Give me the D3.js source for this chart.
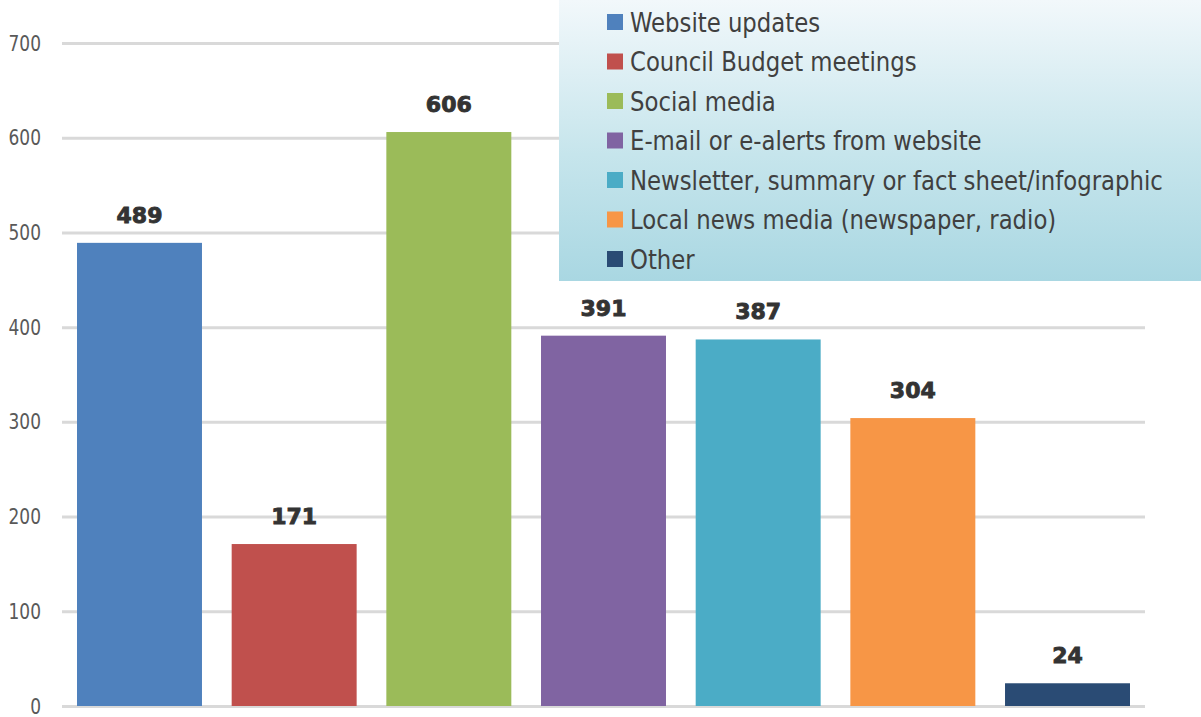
<!DOCTYPE html>
<html><head><meta charset="utf-8">
<script src="https://cdn.jsdelivr.net/npm/d3@7"></script>
<style>html,body{margin:0;padding:0;background:#fff;}svg{display:block;}</style>
</head><body>
<svg id="c" width="1201" height="717"></svg>
<script>
const categories = ["Website updates","Council Budget meetings","Social media","E-mail or e-alerts from website","Newsletter, summary or fact sheet/infographic","Local news media (newspaper, radio)","Other"];
const values = [489,171,606,391,387,304,24];
const colors = ["#4F81BD","#C0504D","#9BBB59","#8064A2","#4BACC6","#F79646","#2A4B74"];
const yTicks = [0,100,200,300,400,500,600,700];

const narrow = "'Liberation Sans Narrow', 'Arial Narrow', 'DejaVu Sans Condensed', sans-serif";
const svg = d3.select("#c");
const x = d3.scaleBand().domain(categories).range([62,1145]).paddingInner(0.192).paddingOuter(0.097);
const y = d3.scaleLinear().domain([0,700]).range([706,43]);

// gridlines
const yAxis = d3.axisLeft(y).tickValues(yTicks).tickSize(-(1145-62)).tickPadding(21);
const gy = svg.append("g").attr("transform","translate(62,0)").call(yAxis);
gy.select(".domain").remove();
gy.selectAll(".tick line").attr("stroke","#d9d9d9").attr("stroke-width",3);
gy.selectAll(".tick text")
  .attr("x",0)
  .attr("transform","translate(-21,0) scale(0.86,1)")
  .attr("fill","#595959").style("font-family",narrow).style("font-size","22px");

// bars
svg.append("g").selectAll("rect").data(values).join("rect")
  .attr("x",(d,i)=>x(categories[i]))
  .attr("y",d=>y(d))
  .attr("width",x.bandwidth())
  .attr("height",d=>y(0)-y(d))
  .attr("fill",(d,i)=>colors[i]);

// value labels
svg.append("g").selectAll("text").data(values).join("text")
  .attr("x",(d,i)=>x(categories[i])+x.bandwidth()/2)
  .attr("y",d=>y(d)-20)
  .attr("text-anchor","middle")
  .attr("fill","#333333")
  .attr("stroke","#333333").attr("stroke-width",0.9)
  .style("font-family","'DejaVu Sans', sans-serif")
  .style("font-weight","bold")
  .style("font-size","22px")
  .text(d=>d);

// legend
const defs = svg.append("defs");
const grad = defs.append("linearGradient").attr("id","lg").attr("x1",0).attr("y1",0).attr("x2",0).attr("y2",1);
grad.append("stop").attr("offset","0%").attr("stop-color","#f2f8fb");
grad.append("stop").attr("offset","55%").attr("stop-color","#c6e5ec");
grad.append("stop").attr("offset","100%").attr("stop-color","#a9d7e2");
svg.append("rect").attr("x",559).attr("y",0).attr("width",642).attr("height",281).attr("fill","url(#lg)");

const lg = svg.append("g");
const rowY = i => 22 + i*39.5;
lg.selectAll("rect").data(categories).join("rect")
  .attr("x",607).attr("y",(d,i)=>rowY(i)-8).attr("width",16).attr("height",16)
  .attr("fill",(d,i)=>colors[i]);
const lt = lg.selectAll("text").data(categories).join("text")
  .attr("x",0).attr("y",0).attr("dy","0.36em")
  .attr("fill","#404040")
  .style("font-family",narrow)
  .style("font-size","27px")
  .text(d=>d);
// compress horizontally so the longest label matches reference width (~533px)
const w = lt.filter((d,i)=>i===4).node().getComputedTextLength();
const k = Math.min(1, 533/w);
lt.attr("transform",(d,i)=>`translate(630,${rowY(i)}) scale(${k},1)`);
</script>
</body></html>
